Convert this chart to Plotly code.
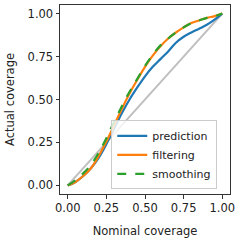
import plotly.graph_objects as go

nominal = [0, 0.05, 0.1, 0.15, 0.2, 0.25, 0.3, 0.35, 0.4, 0.45, 0.5, 0.55, 0.6, 0.65, 0.7, 0.75, 0.8, 0.85, 0.9, 0.95, 1.0]
prediction = [0, 0.02, 0.055, 0.1, 0.16, 0.24, 0.33, 0.42, 0.5, 0.57, 0.635, 0.69, 0.735, 0.78, 0.83, 0.865, 0.89, 0.912, 0.935, 0.965, 1.0]
filtering = [0, 0.02, 0.055, 0.1, 0.17, 0.255, 0.35, 0.445, 0.535, 0.615, 0.69, 0.755, 0.81, 0.855, 0.89, 0.92, 0.945, 0.96, 0.975, 0.985, 1.0]
smoothing = [0, 0.03, 0.07, 0.12, 0.19, 0.275, 0.37, 0.46, 0.545, 0.62, 0.695, 0.76, 0.815, 0.855, 0.89, 0.92, 0.945, 0.96, 0.975, 0.985, 1.0]
diag = [0, 1]
ticks = [0, 0.25, 0.5, 0.75, 1.0]
tick_labels = ["0.00", "0.25", "0.50", "0.75", "1.00"]

FS = 11.5
font = dict(family="DejaVu Sans", size=FS, color="#222")

fig = go.Figure()
fig.add_trace(go.Scatter(x=diag, y=diag, mode="lines", line=dict(color="#bfbfbf", width=2), showlegend=False))
fig.add_trace(go.Scatter(x=nominal, y=prediction, mode="lines", name="prediction", line=dict(color="#1f77b4", width=2.2, shape="spline")))
fig.add_trace(go.Scatter(x=nominal, y=filtering, mode="lines", name="filtering", line=dict(color="#ff7f0e", width=2.2, shape="spline")))
fig.add_trace(go.Scatter(x=nominal, y=smoothing, mode="lines", name="smoothing", line=dict(color="#2ca02c", width=2.2, dash="dash", shape="spline")))

axis_common = dict(range=[-0.05, 1.05], tickvals=ticks, ticktext=tick_labels, showgrid=False, zeroline=False,
                   showline=True, mirror=True, linecolor="#333333", linewidth=1, ticks="outside", ticklen=3.5,
                   tickcolor="#333333", tickfont=font)
fig.update_xaxes(**axis_common, title=dict(text="Nominal coverage", font=font, standoff=12))
fig.update_yaxes(**axis_common, title=dict(text="Actual coverage", font=font, standoff=10))

fig.update_layout(
    width=240, height=240,
    margin=dict(l=60, r=10, t=5, b=46, autoexpand=False),
    plot_bgcolor="white", paper_bgcolor="white",
    legend=dict(x=0.925, y=0.025, xanchor="right", yanchor="bottom", bgcolor="rgba(255,255,255,0.8)",
                bordercolor="#cccccc", borderwidth=1, font=dict(family="DejaVu Sans", size=11, color="#222"),
                tracegroupgap=0, itemwidth=30),
)
fig.write_html("out.html", config={"displayModeBar": False, "staticPlot": True},
               post_script="document.body.style.margin='0';document.body.style.overflow='hidden';")
